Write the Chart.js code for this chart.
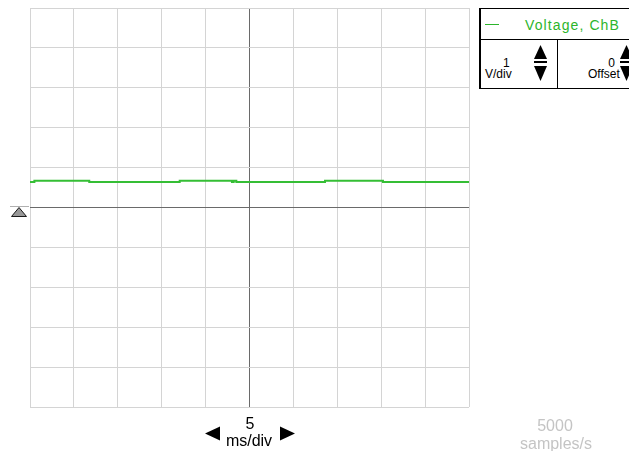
<!DOCTYPE html>
<html>
<head>
<meta charset="utf-8">
<script src="https://cdn.jsdelivr.net/npm/chart.js@4/dist/chart.umd.min.js"></script>
<style>
  html, body { margin: 0; padding: 0; background: #fff; }
  #wrap { position: relative; width: 629px; height: 451px; overflow: hidden; font-family: "Liberation Sans", Arial, sans-serif; font-size: 12px; }
  #c { position: absolute; left: 0; top: 0; }
  .abs { position: absolute; }
  .txt { position: absolute; line-height: 12px; white-space: nowrap; }
  .big { font-size: 16px; line-height: 16px; }
  #panel { position: absolute; left: 479px; top: 8px; width: 170px; height: 79px; border: 1px solid #000; border-left-width: 2px; background: #fff; }
</style>
</head>
<body>
<div id="wrap">
  <canvas id="c" width="629" height="451"></canvas>

  <!-- channel panel -->
  <div id="panel"></div>
  <div class="abs" style="left:481px;top:39px;width:150px;height:1px;background:#000"></div>
  <div class="abs" style="left:557px;top:39px;width:1px;height:49px;background:#000"></div>
  <div class="abs" style="left:485px;top:24px;width:14px;height:1px;background:#2cb52c"></div>
  <div class="txt" style="left:525px;top:18px;font-size:14px;line-height:14px;letter-spacing:1.1px;color:#2cb52c">Voltage, ChB</div>
  <div class="txt" style="left:503px;top:57px">1</div>
  <div class="txt" style="left:485px;top:68px">V/div</div>
  <div class="txt" style="left:600px;top:57px;width:15px;text-align:right">0</div>
  <div class="txt" style="left:588px;top:68px">Offset</div>
  <svg class="abs" style="left:533px;top:44px" width="16" height="40">
    <polygon points="1,15 7.5,1 14,15" fill="#000"/>
    <rect x="1" y="17" width="13" height="2" fill="#000"/>
    <polygon points="1,22 14,22 7.5,37" fill="#000"/>
  </svg>
  <svg class="abs" style="left:619px;top:44px" width="16" height="40">
    <polygon points="1,15 7.5,1 14,15" fill="#000"/>
    <rect x="1" y="17" width="13" height="2" fill="#000"/>
    <polygon points="1,22 14,22 7.5,37" fill="#000"/>
  </svg>

  <!-- trigger level marker -->
  <svg class="abs" style="left:9px;top:205px" width="22" height="14">
    <polygon points="2.5,11.5 10,2.5 17.5,11.5" fill="#989898" stroke="#1a1a1a" stroke-width="1"/>
    <rect x="1" y="1" width="19" height="1" fill="#b0b0b0"/>
  </svg>

  <!-- timebase control -->
  <svg class="abs" style="left:204px;top:426px" width="18" height="16">
    <polygon points="1,7.5 16,0.5 16,14.5" fill="#000"/>
  </svg>
  <div class="txt big" style="left:229px;top:416px;width:42px;text-align:center">5</div>
  <div class="txt big" style="left:209px;top:433px;width:80px;text-align:center">ms/div</div>
  <svg class="abs" style="left:279px;top:426px" width="18" height="16">
    <polygon points="1,0.5 16,7.5 1,14.5" fill="#000"/>
  </svg>

  <div class="txt big" style="left:505px;top:418px;width:100px;text-align:center;color:#c4c4c4">5000</div>
  <div class="txt big" style="left:496px;top:436px;width:120px;text-align:center;color:#c4c4c4">samples/s</div>
</div>

<script>
// Trace of channel B: time (ms) where each level starts, and the level (V)
const timesMs = [0, 0.5, 6.75, 17.05, 23.0, 23.2, 23.5, 33.6, 40.2, 50];
const voltsChB = [0.64, 0.67, 0.64, 0.67, 0.64, 0.67, 0.64, 0.67, 0.64, 0.64];

// Screen: 10 horizontal divisions of 5 ms, 10 vertical divisions of 1 V
const msPerDiv = 5;
const voltsPerDiv = 1;
const divisions = 10;

const gridLight = '#d4d4d4';
const gridAxis = '#6a6a6a';

const points = timesMs.map((t, i) => ({ x: t, y: voltsChB[i] }));

function zeroSize(scale) {
  if (scale.isHorizontal()) scale.height = 0; else scale.width = 0;
}

new Chart(document.getElementById('c'), {
  type: 'line',
  data: {
    datasets: [{
      label: 'Voltage, ChB',
      data: points,
      borderColor: '#35be35',
      borderWidth: 2,
      pointRadius: 0,
      stepped: true,
      fill: false
    }]
  },
  options: {
    responsive: false,
    animation: false,
    layout: { padding: { left: 30, right: 160, top: 8, bottom: 44 } },
    plugins: { legend: { display: false }, tooltip: { enabled: false } },
    scales: {
      x: {
        type: 'linear',
        min: 0,
        max: msPerDiv * divisions,
        afterFit: zeroSize,
        ticks: { display: false, stepSize: msPerDiv },
        border: { display: false },
        grid: {
          drawTicks: false,
          lineWidth: 1,
          color: ctx => (ctx.tick && ctx.tick.value === msPerDiv * divisions / 2) ? gridAxis : gridLight
        }
      },
      y: {
        type: 'linear',
        min: -voltsPerDiv * divisions / 2,
        max: voltsPerDiv * divisions / 2,
        afterFit: zeroSize,
        ticks: { display: false, stepSize: voltsPerDiv },
        border: { display: false },
        grid: {
          drawTicks: false,
          lineWidth: 1,
          color: ctx => (ctx.tick && ctx.tick.value === 0) ? gridAxis : gridLight
        }
      }
    }
  }
});
</script>
</body>
</html>
